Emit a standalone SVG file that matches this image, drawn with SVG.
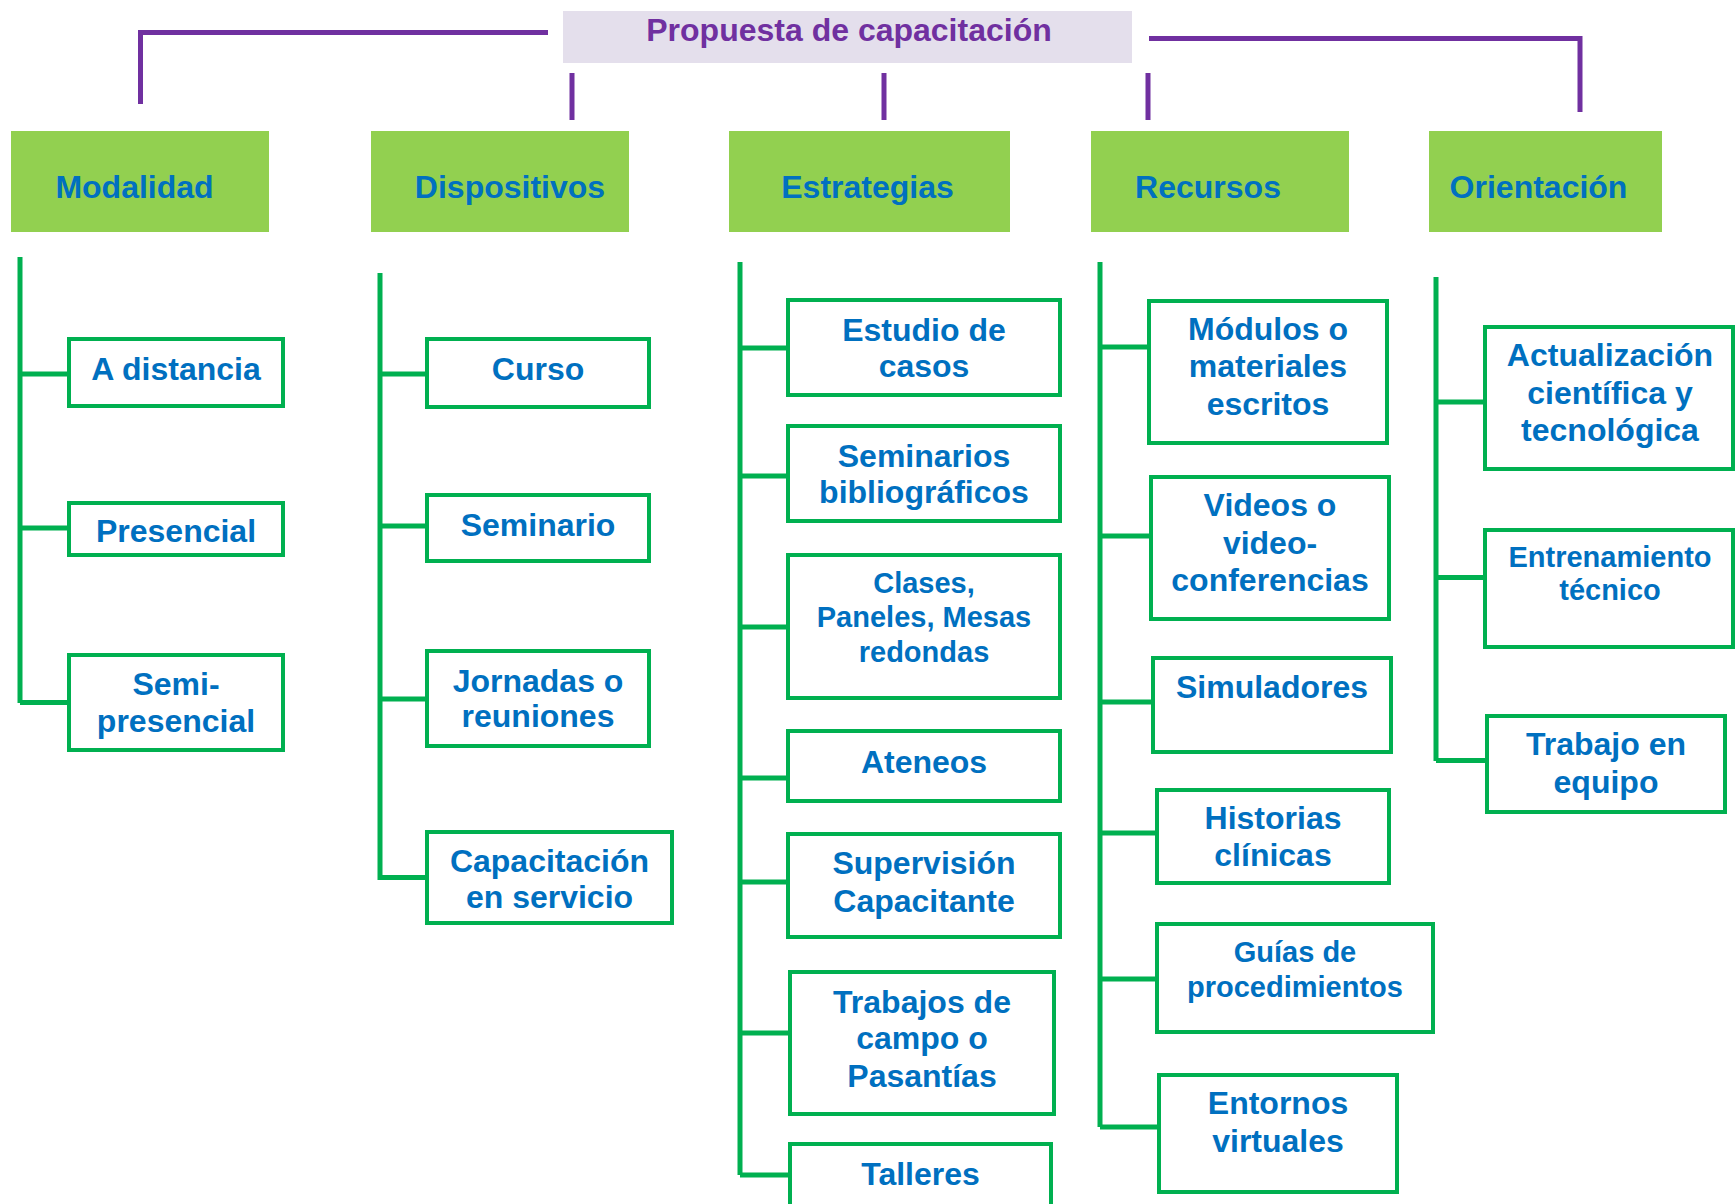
<svg xmlns="http://www.w3.org/2000/svg" width="1735" height="1204" viewBox="0 0 1735 1204">
<style>
.t{font-family:"Liberation Sans",Arial,sans-serif;font-weight:bold;fill:#0070C0;font-size:32px;text-anchor:middle}
.s{font-size:29px}
.hd{fill:#92D050}
.bx{fill:#fff;stroke:#00B050;stroke-width:4}
.gl{stroke:#00B050;stroke-width:5;fill:none}
.pl{stroke:#7030A0;stroke-width:5;fill:none}
.ti{font-family:"Liberation Sans",Arial,sans-serif;font-weight:bold;fill:#7030A0;font-size:32px;text-anchor:middle}
</style>
<rect width="1735" height="1204" fill="#fff"/>
<g id="connectors">
<path class="pl" d="M140.5,104 V32.5 H548"/>
<path class="pl" d="M572,73 V120 M884,73 V120 M1148,73 V120"/>
<path class="pl" d="M1149,38.5 H1580 V112"/>
<path class="gl" d="M20,257 V703 M20,374 H67 M20,528 H67 M20,702.5 H67"/>
<path class="gl" d="M380,273 V880 M380,374 H425 M380,526 H425 M380,699 H425 M380,877.5 H425"/>
<path class="gl" d="M740,262 V1175 M740,348 H786 M740,476 H786 M740,627 H786 M740,778 H786 M740,882 H786 M740,1033 H788 M740,1175 H788"/>
<path class="gl" d="M1100,262 V1127 M1100,347 H1147 M1100,536 H1149 M1100,702 H1151 M1100,833 H1155 M1100,979 H1155 M1100,1127 H1157"/>
<path class="gl" d="M1436,277 V761 M1436,402 H1483 M1436,577.5 H1483 M1436,760.5 H1485"/>
</g>
<g id="title">
<rect x="563" y="11" width="569" height="52" fill="#E4DFEC"/>
<text class="ti" x="849" y="41">Propuesta de capacitación</text>
</g>
<g id="modalidad"><rect class="hd" x="11" y="131" width="258" height="101"/><text class="t" x="134.5" y="198">Modalidad</text></g>
<g id="dispositivos"><rect class="hd" x="371" y="131" width="258" height="101"/><text class="t" x="510" y="198">Dispositivos</text></g>
<g id="estrategias"><rect class="hd" x="729" y="131" width="281" height="101"/><text class="t" x="867.5" y="198">Estrategias</text></g>
<g id="recursos"><rect class="hd" x="1091" y="131" width="258" height="101"/><text class="t" x="1208" y="198">Recursos</text></g>
<g id="orientacion"><rect class="hd" x="1429" y="131" width="233" height="101"/><text class="t" x="1538.5" y="198">Orientación</text></g>

<g id="a-distancia"><rect class="bx" x="69" y="339" width="214" height="67"/><text class="t" x="176" y="380">A distancia</text></g>
<g id="presencial"><rect class="bx" x="69" y="503" width="214" height="52"/><text class="t" x="176" y="542">Presencial</text></g>
<g id="semi-presencial"><rect class="bx" x="69" y="655" width="214" height="95"/><text class="t" x="176" y="695">Semi-</text><text class="t" x="176" y="732">presencial</text></g>

<g id="curso"><rect class="bx" x="427" y="339" width="222" height="68"/><text class="t" x="538" y="380">Curso</text></g>
<g id="seminario"><rect class="bx" x="427" y="495" width="222" height="66"/><text class="t" x="538" y="536">Seminario</text></g>
<g id="jornadas"><rect class="bx" x="427" y="651" width="222" height="95"/><text class="t" x="538" y="692">Jornadas o</text><text class="t" x="538" y="727">reuniones</text></g>
<g id="capacitacion-servicio"><rect class="bx" x="427" y="832" width="245" height="91"/><text class="t" x="549.5" y="872">Capacitación</text><text class="t" x="549.5" y="908">en servicio</text></g>

<g id="estudio-casos"><rect class="bx" x="788" y="300" width="272" height="95"/><text class="t" x="924" y="341">Estudio de</text><text class="t" x="924" y="377">casos</text></g>
<g id="seminarios-bib"><rect class="bx" x="788" y="426" width="272" height="95"/><text class="t" x="924" y="467">Seminarios</text><text class="t" x="924" y="503">bibliográficos</text></g>
<g id="clases"><rect class="bx" x="788" y="555" width="272" height="143"/><text class="t s" x="924" y="593">Clases,</text><text class="t s" x="924" y="627">Paneles, Mesas</text><text class="t s" x="924" y="662">redondas</text></g>
<g id="ateneos"><rect class="bx" x="788" y="731" width="272" height="70"/><text class="t" x="924" y="773">Ateneos</text></g>
<g id="supervision"><rect class="bx" x="788" y="834" width="272" height="103"/><text class="t" x="924" y="874">Supervisión</text><text class="t" x="924" y="912">Capacitante</text></g>
<g id="trabajos-campo"><rect class="bx" x="790" y="972" width="264" height="142"/><text class="t" x="922" y="1013">Trabajos de</text><text class="t" x="922" y="1049">campo o</text><text class="t" x="922" y="1087">Pasantías</text></g>
<g id="talleres"><rect class="bx" x="790" y="1144" width="261" height="90"/><text class="t" x="920.5" y="1185">Talleres</text></g>

<g id="modulos"><rect class="bx" x="1149" y="301" width="238" height="142"/><text class="t" x="1268" y="340">Módulos o</text><text class="t" x="1268" y="377">materiales</text><text class="t" x="1268" y="415">escritos</text></g>
<g id="videos"><rect class="bx" x="1151" y="477" width="238" height="142"/><text class="t" x="1270" y="516">Videos o</text><text class="t" x="1270" y="554">video-</text><text class="t" x="1270" y="591">conferencias</text></g>
<g id="simuladores"><rect class="bx" x="1153" y="658" width="238" height="94"/><text class="t" x="1272" y="698">Simuladores</text></g>
<g id="historias"><rect class="bx" x="1157" y="790" width="232" height="93"/><text class="t" x="1273" y="829">Historias</text><text class="t" x="1273" y="866">clínicas</text></g>
<g id="guias"><rect class="bx" x="1157" y="924" width="276" height="108"/><text class="t s" x="1295" y="962">Guías de</text><text class="t s" x="1295" y="997">procedimientos</text></g>
<g id="entornos"><rect class="bx" x="1159" y="1075" width="238" height="117"/><text class="t" x="1278" y="1114">Entornos</text><text class="t" x="1278" y="1152">virtuales</text></g>

<g id="actualizacion"><rect class="bx" x="1485" y="327" width="248" height="142"/><text class="t" x="1610" y="366">Actualización</text><text class="t" x="1610" y="404">científica y</text><text class="t" x="1610" y="441">tecnológica</text></g>
<g id="entrenamiento"><rect class="bx" x="1485" y="530" width="248" height="117"/><text class="t s" x="1610" y="567">Entrenamiento</text><text class="t s" x="1610" y="600">técnico</text></g>
<g id="trabajo-equipo"><rect class="bx" x="1487" y="716" width="238" height="96"/><text class="t" x="1606" y="755">Trabajo en</text><text class="t" x="1606" y="793">equipo</text></g>
</svg>
